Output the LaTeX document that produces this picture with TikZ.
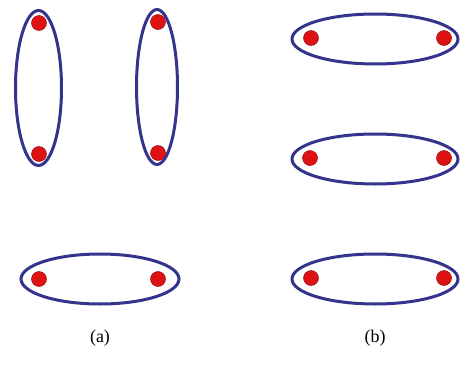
\documentclass[tikz,border=0pt]{standalone}
\usepackage{fontspec}
\setmainfont{Liberation Serif}
\usetikzlibrary{shapes.geometric,positioning}
\definecolor{ringblue}{RGB}{52,52,140}
\definecolor{dotred}{RGB}{222,18,18}

\begin{document}
\begin{tikzpicture}[x=1pt, y=-1pt,
    ring/.style={draw=ringblue, ellipse, line width=3pt, inner sep=0pt},
    vring/.style={ring, minimum width=46pt, minimum height=155pt},
    hring/.style={ring, minimum width=166pt, minimum height=50pt},
    dot/.style={circle, fill=dotred, draw=dotred!70!black, line width=0.5pt, minimum size=15pt, inner sep=0pt},
    caption/.style={font=\fontsize{18}{21}\selectfont}
]
    \useasboundingbox (0,0) rectangle (464,367);

    % Panel (a): two vertical pairs
    \node[vring] (va) at (38.5,88) {};
    \node[vring, minimum width=41pt] (vb) at (157,87) {};
    \node[dot] (va1) at (39,23) {};
    \node[dot] (va2) at (39,154) {};
    \node[dot] (vb1) at (158,22) {};
    \node[dot] (vb2) at (158,153) {};

    % Panel (a): horizontal pair
    \node[hring, minimum width=158pt] (ha) at (100,279) {};
    \node[dot] (ha1) at (39,279) {};
    \node[dot] (ha2) at (158,279) {};

    % Panel (b): three horizontal pairs
    \node[hring] (hb1) at (375,39) {};
    \node[hring] (hb2) at (375,159) {};
    \node[hring] (hb3) at (375,279) {};
    \node[dot] (hb1l) at (311,38) {};
    \node[dot] (hb1r) at (444,38) {};
    \node[dot] (hb2l) at (310,158) {};
    \node[dot] (hb2r) at (444,158) {};
    \node[dot] (hb3l) at (311,278) {};
    \node[dot] (hb3r) at (444,278) {};

    % Captions
    \node[caption] (capa) at (100,338) {(a)};
    \node[caption] (capb) at (375,338) {(b)};
\end{tikzpicture}
\end{document}
